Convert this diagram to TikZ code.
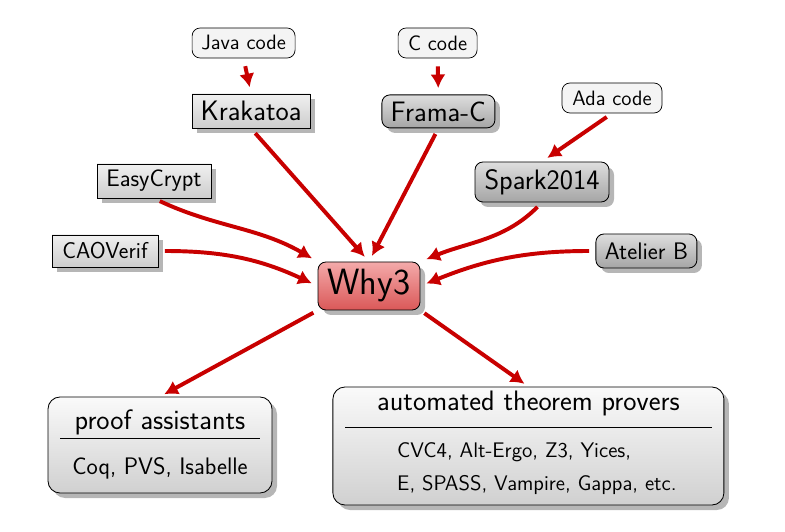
\documentclass[tikz,border=0pt]{standalone}
\usepackage{fontspec}
\usepackage{tikz}
\usetikzlibrary{arrows.meta,calc,positioning,shadows}
\definecolor{arrowred}{RGB}{200,0,0}
\definecolor{codefill}{RGB}{244,244,244}
\definecolor{rectlight}{RGB}{240,240,240}
\definecolor{rectdark}{RGB}{205,205,205}
\definecolor{toollight}{RGB}{222,222,222}
\definecolor{tooldark}{RGB}{165,165,165}
\definecolor{whylight}{RGB}{244,170,170}
\definecolor{whydark}{RGB}{218,88,88}
\definecolor{grouplight}{RGB}{250,250,250}
\definecolor{groupdark}{RGB}{208,208,208}
\definecolor{shadowgray}{RGB}{182,182,182}

\begin{document}
\begin{tikzpicture}[
  font=\sffamily,
  softshadow/.style={drop shadow={shadow xshift=1.25mm, shadow yshift=-1.25mm, opacity=1, fill=shadowgray}},
  codebox/.style={draw, line width=0.5pt, rounded corners=2mm, fill=codefill,
    minimum height=7.5mm, inner sep=0pt, font=\sffamily\fontsize{14.8}{18}\selectfont},
  rectbox/.style={draw, line width=0.6pt, top color=rectlight, bottom color=rectdark,
    softshadow, inner sep=0pt, minimum height=8.5mm},
  toolbox/.style={draw, line width=0.6pt, rounded corners=2mm, top color=toollight,
    bottom color=tooldark, softshadow, inner sep=0pt, minimum height=8.5mm},
  why3box/.style={draw, line width=0.6pt, rounded corners=2mm, top color=whylight,
    bottom color=whydark, softshadow, inner sep=0pt, font=\sffamily\fontsize{26}{31}\selectfont},
  groupbox/.style={draw, line width=0.6pt, rounded corners=3mm, top color=grouplight,
    bottom color=groupdark, softshadow, inner sep=0pt},
  bigtext/.style={font=\sffamily\fontsize{20}{24}\selectfont},
  midtext/.style={font=\sffamily\fontsize{17}{20}\selectfont},
  flow/.style={-{Latex[length=3.4mm,width=3.8mm]}, line width=2.8pt, color=arrowred,
    shorten <=1.6mm, shorten >=1.6mm},
]
\useasboundingbox (0,0) rectangle (19.625,13.275);

% input languages
\node[codebox, minimum width=25.75mm] (java) at (6.09,12.2) {Java code};
\node[codebox, minimum width=19.75mm] (ccode) at (10.94,12.2) {C code};
\node[codebox, minimum width=25mm] (ada) at (15.3,10.825) {Ada code};

% front-ends
\node[rectbox, bigtext, minimum width=29.5mm] (krakatoa) at (6.275,10.5) {Krakatoa};
\node[toolbox, bigtext, minimum width=28.25mm, minimum height=8.25mm] (framac) at (10.96,10.49) {Frama-C};
\node[toolbox, bigtext, minimum width=33.5mm, minimum height=10mm] (spark) at (13.55,8.725) {Spark2014};
\node[rectbox, midtext, minimum width=28.5mm] (easycrypt) at (3.85,8.75) {EasyCrypt};
\node[rectbox, midtext, font=\sffamily\fontsize{16.3}{20}\selectfont, minimum width=26.5mm, minimum height=8mm] (caoverif) at (2.625,7.0) {CAOVerif};
\node[toolbox, midtext, minimum width=25.25mm] (atelier) at (16.16,7.0) {Atelier B};

% platform
\node[why3box, minimum width=25.5mm, minimum height=12mm] (why3) at (9.225,6.125) {Why3};

% back-ends
\node[groupbox, minimum width=56mm, minimum height=24mm] (proof) at (4.0,2.15) {%
  \begin{tabular}{@{\hspace{3mm}}c@{\hspace{3mm}}}
    \fontsize{20}{24}\selectfont proof assistants\\[0.75mm]\hline
    \rule{0pt}{9.1mm}\fontsize{17}{20}\selectfont Coq, PVS, Isabelle
  \end{tabular}};
\node[groupbox, minimum width=97.75mm, minimum height=29.5mm] (atp) at (13.21,2.125) {%
  \begin{tabular}{@{\hspace{8mm}}c@{\hspace{8mm}}}
    \fontsize{20}{24}\selectfont automated theorem provers\\[2.75mm]\hline
    \rule{0pt}{7.45mm}\hspace*{4.25mm}\fontsize{15}{24}\selectfont
    \begin{tabular}[t]{@{}l@{}}
      CVC4, Alt-Ergo, Z3, Yices,\\
      E, SPASS, Vampire, Gappa, etc.\rule[-2.25mm]{0pt}{0pt}
    \end{tabular}
  \end{tabular}};

% connections
\draw[flow, shorten <=2mm] (java.south) -- (krakatoa.north);
\draw[flow, shorten <=2mm] (ccode.south) -- (framac.north);
\draw[flow] (ada.south) -- (spark.north);
\draw[flow] (krakatoa.south) -- (why3.north);
\draw[flow] (framac.south) -- (why3.north);
\draw[flow] (easycrypt.south) to[out=-25, in=150] (why3.north west);
\draw[flow] (caoverif.east) to[out=0, in=155] (why3.west);
\draw[flow] (spark.south) to[out=-135, in=22] (why3.north east);
\draw[flow] (atelier.west) to[out=180, in=22] (why3.east);
\draw[flow, shorten <=1.2mm, shorten >=1.2mm] (why3.south west) -- (proof.north);
\draw[flow, shorten <=1.2mm, shorten >=1.2mm] (why3.south east) -- (atp.north);
\end{tikzpicture}
\end{document}
